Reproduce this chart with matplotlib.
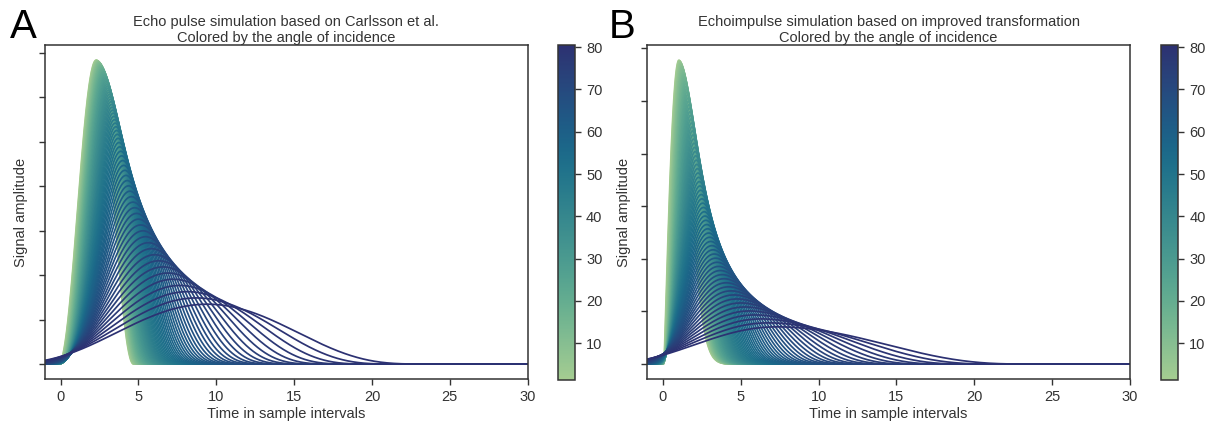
import numpy as np
import matplotlib
matplotlib.use("Agg")
import matplotlib.pyplot as plt
import seaborn as sns

sns.set_style("ticks")
plt.rcParams["font.family"] = ["Liberation Sans", "DejaVu Sans"]
plt.rcParams["text.color"] = "#333333"
plt.rcParams["axes.labelcolor"] = "#333333"
plt.rcParams["xtick.color"] = "#333333"
plt.rcParams["ytick.color"] = "#333333"

# angles of incidence (degrees), one curve each
angles = np.linspace(1.3, 80.5, 80)

# time in sample intervals
t = np.linspace(-1, 30, 1241)
tau = np.arange(-1.0, 6.0, 0.005)

# panel A: transmitted pulse (cos^2 shape)
a_peak = 6.84
a_t_peak = 2.25
a_width = 4.8
a_shift = 1.2       # shift of the footprint per tan(angle)
a_half_left = 2.2   # half width of the footprint per tan(angle)
a_half_right = 2.2

# panel B: transmitted pulse (sharp onset)
b_peak = 5.78
b_onset = 0.05
b_scale = 0.95
b_shift = 1.0
b_half_left = 1.95
b_half_right = 2.7

titles = ["Echo pulse simulation based on Carlsson et al.\nColored by the angle of incidence",
          "Echoimpulse simulation based on improved transformation\nColored by the angle of incidence"]
letters = ["A", "B"]


def pulse_a(x):
    d = x - a_t_peak
    p = a_peak * np.cos(np.pi * d / a_width) ** 2
    p[np.abs(d) > a_width / 2] = 0
    return p


def pulse_b(x):
    u = (x - b_onset) / b_scale
    p = b_peak * u * np.exp(0.5 * (1 - u ** 2))
    p[u < 0] = 0
    return p


def echo(base, shift, h_left, h_right, ang):
    g = np.tan(np.radians(ang))
    hl = np.sqrt(0.07 ** 2 + (h_left * g) ** 2)
    hr = np.sqrt(0.07 ** 2 + (h_right * g) ** 2)
    d = t[:, None] - tau[None, :] - shift * g
    u = np.where(d < 0, d / hl, d / hr)
    k = np.clip(1 - u ** 2, 0, None) ** 3
    k = k / ((hl + hr) / 2 * 32 / 35)
    return (k * base[None, :]).sum(axis=1) * (tau[1] - tau[0])


cmap = sns.color_palette("crest", as_cmap=True)
norm = plt.Normalize(angles.min(), angles.max())

fig = plt.figure(figsize=(12.1, 4.23), dpi=100)
axes = [fig.add_axes([0.0372, 0.1033, 0.3989, 0.7903]),
        fig.add_axes([0.5350, 0.1033, 0.3989, 0.7903])]
caxes = [fig.add_axes([0.4614, 0.1017, 0.0138, 0.7919]),
         fig.add_axes([0.9598, 0.1017, 0.0138, 0.7919])]

settings = [(pulse_a(tau), a_shift, a_half_left, a_half_right, range(0, 8)),
            (pulse_b(tau), b_shift, b_half_left, b_half_right, range(0, 7))]

for i, ax in enumerate(axes):
    base, sh, hl, hr, yt = settings[i]
    for ang in angles:
        ax.plot(t, echo(base, sh, hl, hr, ang), color=cmap(norm(ang)), lw=1.25)
    ax.set_xlim(-1, 30)
    ax.set_xticks([0, 5, 10, 15, 20, 25, 30])
    ax.set_yticks(list(yt))
    ax.set_yticklabels([])
    ax.tick_params(labelsize=10.5, length=4.5, width=1)
    for s in ax.spines.values():
        s.set_linewidth(1.1)
        s.set_color("#333333")
    ax.set_xlabel("Time in sample intervals", fontsize=10.5, labelpad=2)
    ax.set_ylabel("Signal amplitude", fontsize=10.5, labelpad=4)
    ax.set_title(titles[i], fontsize=10.5, pad=2.5, linespacing=1.1)

    sm = plt.cm.ScalarMappable(cmap=cmap, norm=norm)
    cb = fig.colorbar(sm, cax=caxes[i])
    cb.set_ticks([10, 20, 30, 40, 50, 60, 70, 80])
    cb.ax.tick_params(labelsize=10.5, length=4.5, width=1)
    cb.outline.set_linewidth(1.1)
    cb.outline.set_edgecolor("#333333")

fig.text(0.008, 0.91, letters[0], fontsize=29, color="black")
fig.text(0.503, 0.91, letters[1], fontsize=29, color="black")

fig.savefig("out.png", dpi=100)
